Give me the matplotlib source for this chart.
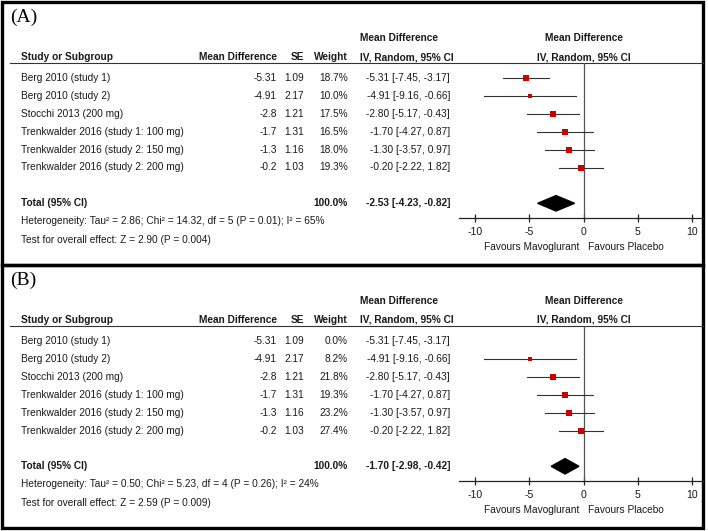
import matplotlib
matplotlib.use('Agg')
import matplotlib.pyplot as plt
from matplotlib.patches import Rectangle, Polygon

### DATA
studies = ['Berg 2010 (study 1)', 'Berg 2010 (study 2)', 'Stocchi 2013 (200 mg)',
           'Trenkwalder 2016 (study 1: 100 mg)', 'Trenkwalder 2016 (study 2: 150 mg)',
           'Trenkwalder 2016 (study 2: 200 mg)']
mean_diff = [-5.31, -4.91, -2.8, -1.7, -1.3, -0.2]
se = [1.09, 2.17, 1.21, 1.31, 1.16, 1.03]
ci_low = [-7.45, -9.16, -5.17, -4.27, -3.57, -2.22]
ci_high = [-3.17, -0.66, -0.43, 0.87, 0.97, 1.82]
weight_a = [18.7, 10.0, 17.5, 16.5, 18.0, 19.3]
weight_b = [0.0, 8.2, 21.8, 19.3, 23.2, 27.4]
total_a = [-2.53, -4.23, -0.82]
total_b = [-1.70, -2.98, -0.42]
het_a = 'Heterogeneity: Tau\u00b2 = 2.86; Chi\u00b2 = 14.32, df = 5 (P = 0.01); I\u00b2 = 65%'
het_b = 'Heterogeneity: Tau\u00b2 = 0.50; Chi\u00b2 = 5.23, df = 4 (P = 0.26); I\u00b2 = 24%'
test_a = 'Test for overall effect: Z = 2.90 (P = 0.004)'
test_b = 'Test for overall effect: Z = 2.59 (P = 0.009)'
xticks = [-10, -5, 0, 5, 10]

W, H = 708, 531
FONT = 'Liberation Sans'
FS = 7.3
TXT = '#1a1a1a'

fig = plt.figure(figsize=(W / 100, H / 100), dpi=100)
bg = fig.add_axes([0, 0, 1, 1])
bg.set_xlim(0, W)
bg.set_ylim(H, 0)
bg.axis('off')


def txt(x, y, s, ha='left', bold=False, **kw):
    bg.text(x, y, s, ha=ha, va='center', fontsize=FS, family=FONT, color=TXT,
            fontweight='bold' if bold else 'normal', **kw)


def panel(off, label, weights, total, het, test):
    step = 17.9
    row0 = 78 + off
    hline = 63 + off
    axis_y = 218 + off

    # frame
    bg.add_patch(Rectangle((2, 2 + off), 701, 263, fill=False, lw=2.4, ec='black'))
    bg.text(10, 17 + off, label, ha='left', va='center', fontsize=14,
            family='Liberation Serif', color='black')

    # headers
    txt(277, 57 + off, 'Mean Difference', ha='right', bold=True)
    txt(21, 57 + off, 'Study or Subgroup', bold=True)
    txt(304, 57 + off, 'SE', ha='right', bold=True)
    txt(348, 57 + off, 'Weight', ha='right', bold=True)
    txt(360, 38 + off, 'Mean Difference', bold=True)
    txt(360, 57 + off, 'IV, Random, 95% CI', bold=True)
    txt(584, 38 + off, 'Mean Difference', ha='center', bold=True)
    txt(584, 57 + off, 'IV, Random, 95% CI', ha='center', bold=True)
    bg.plot([10, 703], [hline, hline], color='#333333', lw=0.8)

    # rows
    for i, name in enumerate(studies):
        y = row0 + i * step
        txt(21, y, name)
        txt(277, y, f'{mean_diff[i]:g}', ha='right')
        txt(304, y, f'{se[i]:.2f}', ha='right')
        txt(348, y, f'{weights[i]:.1f}%', ha='right')
        txt(450, y, f'{mean_diff[i]:.2f} [{ci_low[i]:.2f}, {ci_high[i]:.2f}]', ha='right')

    ytot = row0 + 7 * step
    txt(21, ytot, 'Total (95% CI)', bold=True)
    txt(348, ytot, '100.0%', ha='right', bold=True)
    txt(450, ytot, f'{total[0]:.2f} [{total[1]:.2f}, {total[2]:.2f}]', ha='right', bold=True)
    txt(21, 221 + off, het)
    txt(21, 240 + off, test)
    txt(579, 247 + off, 'Favours Mavoglurant', ha='right')
    txt(588, 247 + off, 'Favours Placebo')

    # forest axes
    x0, x1 = 459, 703
    px_per = 10.85
    zero = 583.5
    ax = fig.add_axes([x0 / W, 1 - axis_y / H, (x1 - x0) / W, (axis_y - hline) / H])
    ax.set_xlim((x0 - zero) / px_per, (x1 - zero) / px_per)
    ylo = (axis_y - row0) / step
    yhi = (hline - row0) / step
    ax.set_ylim(ylo, yhi)
    ax.patch.set_alpha(0)
    for s in ['top', 'right', 'left']:
        ax.spines[s].set_visible(False)
    ax.spines['bottom'].set_linewidth(0.9)
    ax.spines['bottom'].set_color('#222222')
    ax.set_yticks([])
    ax.set_xticks(xticks)
    ax.set_xticklabels([str(t) for t in xticks], fontsize=FS + 0.3, family=FONT, color=TXT)
    ax.tick_params(axis='x', direction='inout', length=6, width=0.9, pad=3.5, color='#222222')
    ax.axvline(0, color='#555555', lw=0.9)

    for i in range(len(studies)):
        if weights[i] <= 0:
            continue
        ax.plot([ci_low[i], ci_high[i]], [i, i], color='#333333', lw=0.8)
        side = 1.25 * weights[i] ** 0.5 / 1.389
        ax.plot(mean_diff[i], i, marker='s', color='#cc0000', ms=side, mew=0, ls='none')

    h = 0.43
    ax.add_patch(Polygon([(total[1], 7), (total[0], 7 - h), (total[2], 7), (total[0], 7 + h)],
                         closed=True, color='black'))


panel(0, '(A)', weight_a, total_a, het_a, test_a)
panel(263, '(B)', weight_b, total_b, het_b, test_b)

fig.savefig('out.png', dpi=100)
